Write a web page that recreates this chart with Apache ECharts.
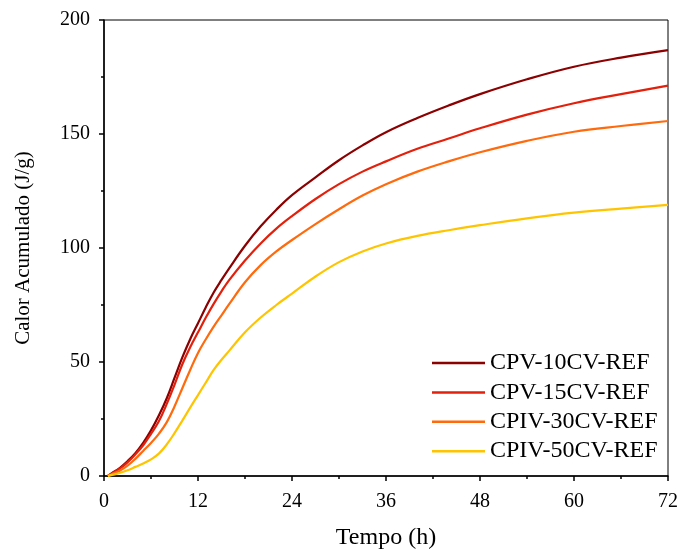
<!DOCTYPE html>
<html>
<head>
<meta charset="utf-8">
<script src="https://cdn.jsdelivr.net/npm/echarts@6/dist/echarts.min.js"></script>
<style>html,body{margin:0;padding:0;background:#fff}#c{width:681px;height:550px}</style>
</head>
<body>
<div id="c"></div>
<script>
var times = [0.5, 1, 2, 3, 4, 5, 6, 7, 8, 9, 10, 11, 12, 13, 14, 15, 16, 18, 20, 22, 24, 27, 30, 33, 36, 40, 44, 48, 54, 60, 66, 72];
var cpv10 = [0, 1.2, 3.5, 6.5, 10, 14.5, 20, 26.5, 34, 43, 52, 60, 67, 74, 80.5, 86, 91.2, 101, 109.5, 116.8, 123.2, 131, 138.5, 145, 150.8, 157, 162.5, 167.5, 174, 179.5, 183.5, 186.8];
var cpv15 = [0, 1.1, 3.2, 6, 9.5, 13.5, 18.5, 24, 31.5, 40, 49, 56.5, 63, 69.5, 75.5, 81, 86, 94.5, 102, 108.5, 114, 121.5, 128, 133.5, 138, 143.5, 148, 152.5, 158.5, 163.5, 167.5, 171.2];
var cpiv30 = [0, 0.8, 2.3, 4.5, 7.5, 11, 14.5, 18.5, 23.5, 30.5, 38.5, 46.5, 54, 60, 65.5, 70.5, 75.5, 85, 92.5, 98.5, 103.5, 110.5, 117, 123, 128, 133.5, 138, 142, 147, 151, 153.5, 155.7];
var cpiv50 = [0, 0.5, 1.3, 2.5, 4, 5.5, 7.3, 9.8, 13.8, 18.8, 24.3, 30, 35.5, 41, 46.5, 51, 55, 63, 69.5, 75, 80, 87.5, 93.8, 98.5, 102, 105.3, 107.8, 110, 113, 115.5, 117.3, 118.9];
var seriesNames = ['CPV-10CV-REF', 'CPV-15CV-REF', 'CPIV-30CV-REF', 'CPIV-50CV-REF'];
var seriesValues = [cpv10, cpv15, cpiv30, cpiv50];
var colors = ['#8B0000', '#E3200B', '#FF6A0D', '#FFC400'];

function pairs(vals) { return times.map(function (t, i) { return [t, vals[i]]; }); }

var font = 'Liberation Serif, Times New Roman, serif';
var chart = echarts.init(document.getElementById('c'));
chart.setOption({
  animation: false,
  backgroundColor: '#fff',
  grid: { left: 104, right: 13, top: 20, bottom: 74, show: true, borderColor: '#000', borderWidth: 1, containLabel: false, outerBoundsMode: 'none' },
  legend: {
    orient: 'vertical', left: 427, top: 346,
    icon: 'rect', itemWidth: 53, itemHeight: 2.5, itemGap: 5.4,
    textStyle: { fontFamily: font, fontSize: 24, color: '#000', lineHeight: 24 },
    data: seriesNames
  },
  xAxis: {
    type: 'value', min: 0, max: 72, interval: 12,
    name: 'Tempo (h)', nameLocation: 'middle', nameGap: 50,
    nameTextStyle: { fontFamily: font, fontSize: 24, color: '#000' },
    axisLine: { show: true, lineStyle: { color: '#000', width: 1.5 } },
    axisTick: { show: true, inside: false, length: 5, lineStyle: { color: '#000', width: 1.5 } },
    minorTick: { show: true, splitNumber: 2, length: 3, lineStyle: { color: '#000', width: 1.5 } },
    splitLine: { show: false },
    axisLabel: { fontFamily: font, fontSize: 20, color: '#000', margin: 16 }
  },
  yAxis: {
    type: 'value', min: 0, max: 200, interval: 50,
    name: 'Calor Acumulado (J/g)', nameLocation: 'middle', nameGap: 70,
    nameTextStyle: { fontFamily: font, fontSize: 21, color: '#000' },
    axisLine: { show: true, lineStyle: { color: '#000', width: 1.5 } },
    axisTick: { show: true, inside: false, length: 5, lineStyle: { color: '#000', width: 1.5 } },
    minorTick: { show: true, splitNumber: 2, length: 3, lineStyle: { color: '#000', width: 1.5 } },
    splitLine: { show: false },
    axisLabel: { fontFamily: font, fontSize: 20, color: '#000', margin: 14 }
  },
  series: seriesNames.map(function (n, i) {
    return {
      name: n, type: 'line', data: pairs(seriesValues[i]), smooth: 0.4,
      symbol: 'none', color: colors[i], lineStyle: { width: 2.2, color: colors[i] }
    };
  })
});
</script>
</body>
</html>
